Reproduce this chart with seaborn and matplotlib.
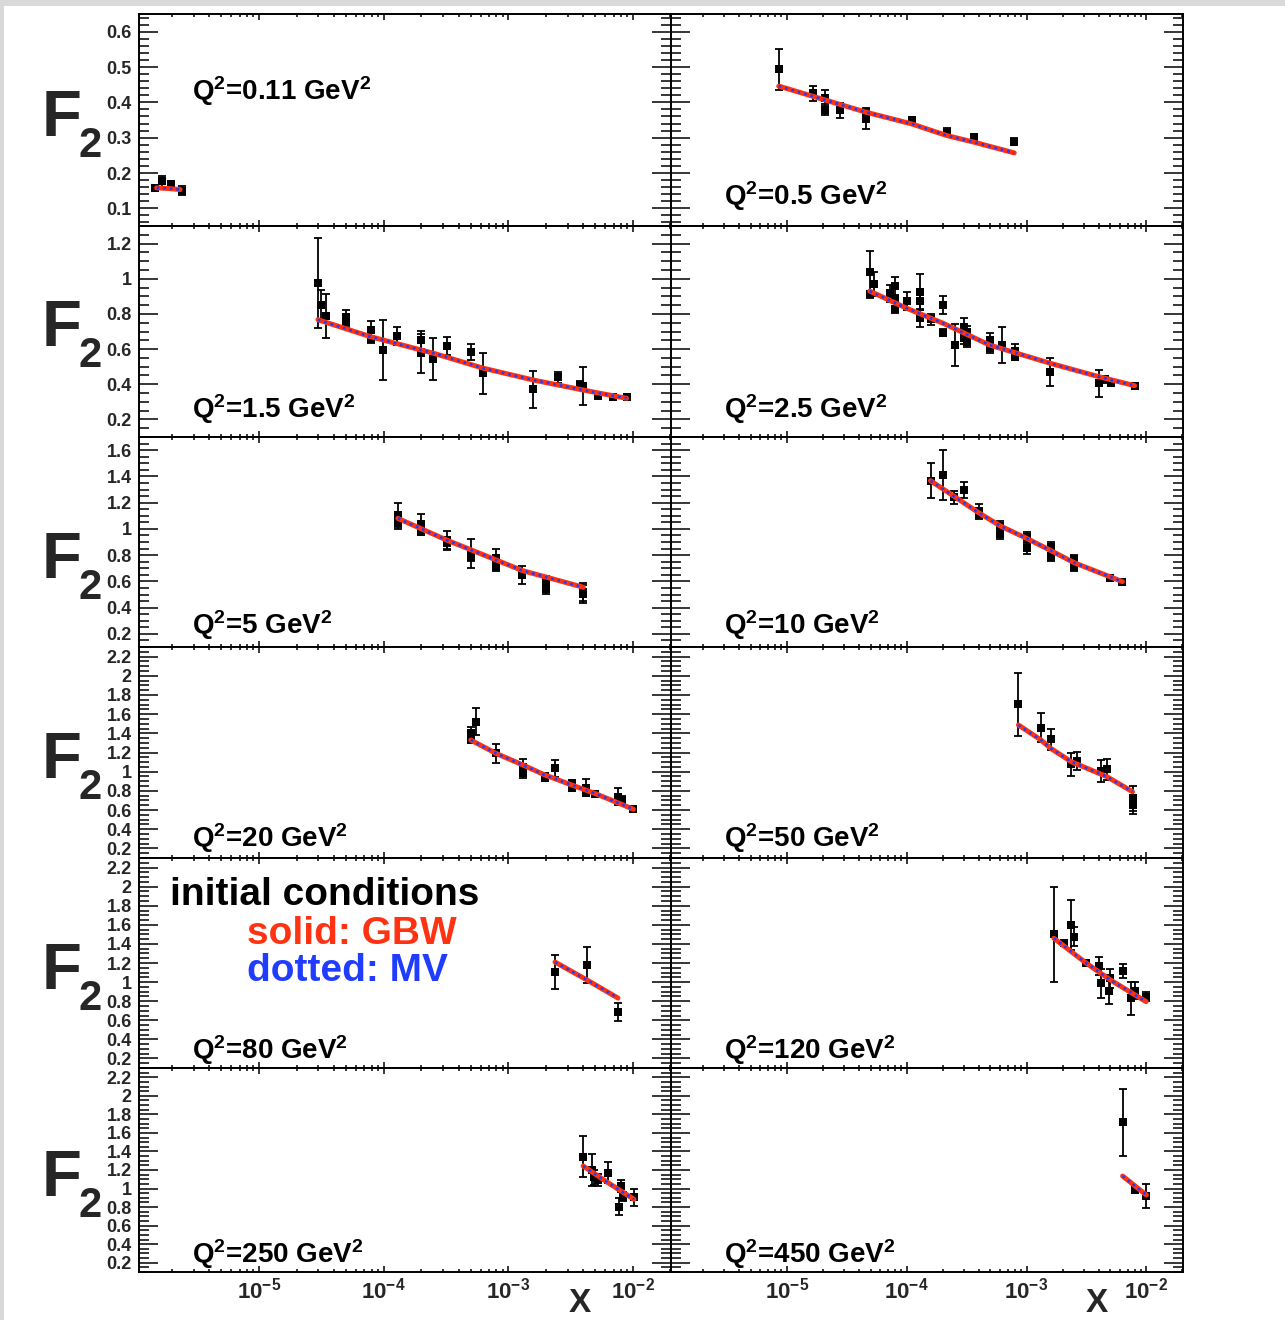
import numpy as np
import pandas as pd
import matplotlib
matplotlib.use("Agg")
import matplotlib.pyplot as plt
import seaborn as sns
from matplotlib.ticker import MultipleLocator, LogLocator, NullFormatter, FuncFormatter
from matplotlib.patches import Rectangle

# ---------------- data ----------------
q2_labels = ["0.11", "0.5", "1.5", "2.5", "5", "10", "20", "50", "80", "120", "250", "450"]

x_011 = [1.47e-6, 1.68e-6, 1.96e-6, 2.40e-6]
f2_011 = [0.158, 0.176, 0.168, 0.150]
err_011 = [0.009, 0.015, 0.010, 0.012]
thx_011 = [1.51e-6, 1.90e-6, 2.33e-6]
thf_011 = [0.158, 0.156, 0.153]

x_05 = [8.56e-6, 1.66e-5, 2.10e-5, 2.10e-5, 2.75e-5, 4.58e-5, 4.58e-5, 1.10e-4, 2.16e-4, 3.67e-4, 7.89e-4]
f2_05 = [0.493, 0.425, 0.413, 0.379, 0.377, 0.368, 0.354, 0.349, 0.316, 0.301, 0.289]
err_05 = [0.057, 0.020, 0.022, 0.015, 0.020, 0.012, 0.030, 0.010, 0.010, 0.010, 0.010]
thx_05 = [8.56e-6, 4.58e-5, 1.10e-4, 2.16e-4, 3.67e-4, 7.89e-4]
thf_05 = [0.446, 0.372, 0.339, 0.306, 0.287, 0.257]

x_15 = [2.97e-5, 3.14e-5, 3.48e-5, 4.96e-5, 4.96e-5, 7.89e-5, 7.89e-5, 9.86e-5, 1.28e-4, 2.00e-4, 2.00e-4,
        2.50e-4, 3.21e-4, 5.06e-4, 6.32e-4, 1.59e-3, 2.49e-3, 3.77e-3, 3.99e-3, 5.20e-3, 6.93e-3, 8.88e-3]
f2_15 = [0.974, 0.851, 0.790, 0.784, 0.756, 0.708, 0.656, 0.595, 0.674, 0.652, 0.576,
         0.542, 0.617, 0.585, 0.462, 0.371, 0.439, 0.397, 0.390, 0.333, 0.329, 0.329]
err_15 = [0.255, 0.085, 0.125, 0.04, 0.03, 0.05, 0.02, 0.17, 0.05, 0.05, 0.11,
          0.12, 0.05, 0.045, 0.115, 0.105, 0.03, 0.02, 0.11, 0.015, 0.015, 0.015]
thx_15 = [2.97e-5, 7.89e-5, 2.52e-4, 6.32e-4, 1.59e-3, 3.99e-3, 8.88e-3]
thf_15 = [0.767, 0.670, 0.576, 0.491, 0.424, 0.367, 0.320]

x_25 = [4.91e-5, 4.91e-5, 5.38e-5, 7.21e-5, 7.97e-5, 7.97e-5, 7.97e-5, 1.00e-4, 1.30e-4, 1.30e-4, 1.30e-4,
        1.61e-4, 2.01e-4, 2.01e-4, 2.51e-4, 3.02e-4, 3.02e-4, 3.19e-4, 3.19e-4, 4.92e-4, 4.92e-4, 6.29e-4,
        8.03e-4, 8.03e-4, 1.58e-3, 4.01e-3, 4.50e-3, 5.05e-3, 7.98e-3]
f2_25 = [1.040, 0.913, 0.970, 0.917, 0.959, 0.883, 0.826, 0.875, 0.926, 0.875, 0.775,
         0.769, 0.851, 0.693, 0.623, 0.727, 0.661, 0.699, 0.642, 0.652, 0.608, 0.623,
         0.589, 0.557, 0.471, 0.405, 0.428, 0.405, 0.392]
err_25 = [0.12, 0.02, 0.067, 0.05, 0.05, 0.02, 0.02, 0.05, 0.10, 0.05, 0.05,
          0.03, 0.05, 0.02, 0.12, 0.05, 0.03, 0.03, 0.03, 0.04, 0.03, 0.10,
          0.04, 0.02, 0.08, 0.075, 0.02, 0.015, 0.01]
thx_25 = [4.91e-5, 1.00e-4, 2.01e-4, 4.92e-4, 1.58e-3, 4.01e-3, 7.98e-3]
thf_25 = [0.930, 0.832, 0.747, 0.623, 0.519, 0.443, 0.392]

x_5 = [1.30e-4, 1.30e-4, 2.00e-4, 2.00e-4, 3.20e-4, 3.20e-4, 5.00e-4, 5.00e-4, 8.00e-4, 8.00e-4,
       1.30e-3, 2.00e-3, 2.00e-3, 4.00e-3, 4.00e-3]
f2_5 = [1.106, 1.047, 1.037, 0.986, 0.915, 0.890, 0.814, 0.783, 0.776, 0.712, 0.649, 0.610, 0.542, 0.521, 0.504]
err_5 = [0.09, 0.05, 0.08, 0.03, 0.07, 0.05, 0.11, 0.03, 0.07, 0.03, 0.07, 0.03, 0.04, 0.07, 0.07]
thx_5 = [1.30e-4, 3.20e-4, 8.00e-4, 1.30e-3, 4.00e-3]
thf_5 = [1.080, 0.915, 0.763, 0.682, 0.555]

x_10 = [1.58e-4, 2.00e-4, 2.47e-4, 2.99e-4, 3.99e-4, 3.99e-4, 6.05e-4, 6.05e-4, 1.00e-3, 1.00e-3,
        1.60e-3, 1.60e-3, 2.50e-3, 2.50e-3, 5.00e-3, 6.30e-3]
f2_10 = [1.367, 1.410, 1.241, 1.296, 1.136, 1.106, 1.022, 0.961, 0.940, 0.852, 0.860, 0.788, 0.768, 0.712, 0.628, 0.598]
err_10 = [0.135, 0.19, 0.05, 0.06, 0.05, 0.03, 0.04, 0.04, 0.04, 0.04, 0.04, 0.03, 0.03, 0.03, 0.01, 0.01]
thx_10 = [1.58e-4, 3.99e-4, 6.05e-4, 1.00e-3, 1.60e-3, 2.50e-3, 6.30e-3]
thf_10 = [1.367, 1.123, 1.022, 0.928, 0.834, 0.742, 0.598]

x_20 = [5.0e-4, 5.0e-4, 5.55e-4, 7.93e-4, 1.31e-3, 1.31e-3, 1.97e-3, 1.97e-3, 2.37e-3, 3.23e-3, 3.23e-3,
        4.20e-3, 4.20e-3, 4.95e-3, 7.61e-3, 8.13e-3, 1.01e-2]
f2_20 = [1.406, 1.330, 1.521, 1.192, 1.052, 0.989, 0.955, 0.931, 1.035, 0.879, 0.833,
         0.833, 0.774, 0.764, 0.739, 0.705, 0.608]
err_20 = [0.06, 0.03, 0.14, 0.10, 0.08, 0.05, 0.03, 0.03, 0.09, 0.03, 0.03, 0.09, 0.03, 0.02, 0.09, 0.04, 0.01]
thx_20 = [5.0e-4, 7.93e-4, 1.31e-3, 1.97e-3, 3.23e-3, 4.95e-3, 1.01e-2]
thf_20 = [1.330, 1.192, 1.070, 0.965, 0.861, 0.774, 0.608]

x_50 = [8.55e-4, 1.32e-3, 1.59e-3, 2.36e-3, 2.66e-3, 4.22e-3, 4.68e-3, 7.66e-3, 7.66e-3]
f2_50 = [1.702, 1.459, 1.338, 1.080, 1.111, 1.007, 1.025, 0.722, 0.652]
err_50 = [0.33, 0.15, 0.11, 0.12, 0.09, 0.11, 0.11, 0.13, 0.09]
thx_50 = [8.55e-4, 1.32e-3, 1.59e-3, 2.36e-3, 4.68e-3, 7.66e-3]
thf_50 = [1.487, 1.330, 1.243, 1.104, 0.948, 0.791]

x_80 = [2.37e-3, 4.28e-3, 7.58e-3]
f2_80 = [1.106, 1.179, 0.687]
err_80 = [0.18, 0.19, 0.09]
thx_80 = [2.37e-3, 4.28e-3, 7.58e-3]
thf_80 = [1.210, 1.022, 0.833]

x_120 = [1.69e-3, 2.07e-3, 2.37e-3, 2.51e-3, 3.16e-3, 4.00e-3, 4.21e-3, 5.01e-3, 4.91e-3, 6.34e-3, 7.50e-3, 8.10e-3, 9.94e-3]
f2_120 = [1.501, 1.413, 1.598, 1.475, 1.197, 1.169, 0.987, 1.040, 0.907, 1.116, 0.830, 0.910, 0.847]
err_120 = [0.50, 0.03, 0.26, 0.10, 0.02, 0.09, 0.15, 0.10, 0.14, 0.07, 0.17, 0.09, 0.05]
thx_120 = [1.69e-3, 3.16e-3, 5.01e-3, 9.94e-3]
thf_120 = [1.459, 1.197, 1.022, 0.795]

x_250 = [3.99e-3, 4.69e-3, 4.88e-3, 5.28e-3, 6.31e-3, 7.77e-3, 8.07e-3, 8.34e-3, 1.02e-2]
f2_250 = [1.343, 1.200, 1.121, 1.092, 1.171, 0.804, 1.027, 0.912, 0.905]
err_250 = [0.22, 0.17, 0.08, 0.06, 0.11, 0.09, 0.06, 0.05, 0.09]
thx_250 = [3.99e-3, 6.31e-3, 1.02e-2]
thf_250 = [1.243, 1.063, 0.884]

x_450 = [6.33e-3, 7.99e-3, 1.00e-2]
f2_450 = [1.714, 0.984, 0.919]
err_450 = [0.36, 0.03, 0.13]
thx_450 = [6.33e-3, 1.00e-2]
thf_450 = [1.135, 0.930]

data_x = [x_011, x_05, x_15, x_25, x_5, x_10, x_20, x_50, x_80, x_120, x_250, x_450]
data_f2 = [f2_011, f2_05, f2_15, f2_25, f2_5, f2_10, f2_20, f2_50, f2_80, f2_120, f2_250, f2_450]
data_err = [err_011, err_05, err_15, err_25, err_5, err_10, err_20, err_50, err_80, err_120, err_250, err_450]
theory_x = [thx_011, thx_05, thx_15, thx_25, thx_5, thx_10, thx_20, thx_50, thx_80, thx_120, thx_250, thx_450]
theory_f2 = [thf_011, thf_05, thf_15, thf_25, thf_5, thf_10, thf_20, thf_50, thf_80, thf_120, thf_250, thf_450]

# axis ranges / tick steps per row
row_ylims = [(0.05, 0.65), (0.1, 1.3), (0.1, 1.7), (0.1, 2.3), (0.1, 2.3), (0.1, 2.3)]
row_major = [0.1, 0.2, 0.2, 0.2, 0.2, 0.2]
row_minor = [0.02, 0.05, 0.05, 0.05, 0.05, 0.05]
x_range = (1.08e-6, 2.02e-2)

# ---------------- style ----------------
sns.set_theme(style="ticks")
plt.rcParams['font.family'] = ['Liberation Sans', 'DejaVu Sans']
plt.rcParams['font.weight'] = 'bold'
plt.rcParams['mathtext.fontset'] = 'custom'
plt.rcParams['mathtext.rm'] = 'Liberation Sans:bold'
plt.rcParams['mathtext.it'] = 'Liberation Sans:bold'
plt.rcParams['mathtext.bf'] = 'Liberation Sans:bold'
plt.rcParams['mathtext.sf'] = 'Liberation Sans:bold'
plt.rcParams['mathtext.default'] = 'rm'

RED = '#ff3311'
BLUE = '#1f3cff'

W, H = 1285, 1320
fig = plt.figure(figsize=(W / 100, H / 100), dpi=100)
fig.patch.set_facecolor('white')

COLS = [(138.5, 671.0), (671.0, 1183.0)]
ROWS = [14, 226, 437, 647, 858, 1068, 1272]
Q_BASE = [[100, 205], [418, 418], [634, 634], [847, 847], [1059, 1059], [1263, 1263]]
Q_X = [192, 724]
F_BASE = [136, 346, 578, 778, 989, 1196]


def fx(px):
    return px / W


def fy(py):
    return 1 - py / H


for i in range(12):
    r, c = divmod(i, 2)
    x0, x1 = COLS[c]
    y0, y1 = ROWS[r], ROWS[r + 1]
    ax = fig.add_axes([x0 / W, 1 - y1 / H, (x1 - x0) / W, (y1 - y0) / H])
    ax.set_facecolor('white')
    ax.set_xscale('log')
    ax.set_xlim(*x_range)
    ax.set_ylim(*row_ylims[r])

    df = pd.DataFrame({'x': data_x[i], 'F2': data_f2[i], 'err': data_err[i]})
    ax.errorbar(df['x'], df['F2'], yerr=df['err'], fmt='none', ecolor='black',
                elinewidth=1.3, capsize=3.0, capthick=1.3, zorder=3)
    sns.scatterplot(data=df, x='x', y='F2', marker='s', s=26, color='black',
                    edgecolor='black', linewidth=0, ax=ax, zorder=4, legend=False)
    th = pd.DataFrame({'x': theory_x[i], 'F2': theory_f2[i]})
    sns.lineplot(data=th, x='x', y='F2', ax=ax, color=RED, lw=3.6, estimator=None,
                 sort=False, legend=False, zorder=5)
    sns.lineplot(data=th, x='x', y='F2', ax=ax, color=BLUE, lw=1.9, ls=(0, (1.0, 1.5)),
                 estimator=None, sort=False, legend=False, zorder=6)
    ax.set_xlabel('')
    ax.set_ylabel('')

    for sp in ax.spines.values():
        sp.set_visible(True)
        sp.set_linewidth(1.4)
        sp.set_color('black')

    ax.xaxis.set_major_locator(LogLocator(base=10, numticks=15))
    ax.xaxis.set_minor_locator(LogLocator(base=10, subs=np.arange(2, 10), numticks=15))
    ax.xaxis.set_minor_formatter(NullFormatter())
    ax.yaxis.set_major_locator(MultipleLocator(row_major[r]))
    ax.yaxis.set_minor_locator(MultipleLocator(row_minor[r]))
    ax.yaxis.set_major_formatter(FuncFormatter(lambda v, pos: f"{round(v, 2):g}"))
    ax.xaxis.set_major_formatter(FuncFormatter(lambda v, pos: r"$10^{%d}$" % int(round(np.log10(v)))))

    ax.tick_params(axis='both', which='both', direction='in', top=True, right=True,
                   bottom=True, left=True, width=1.1, color='black')
    ax.tick_params(axis='y', which='major', length=13.5, labelsize=13, pad=5)
    ax.tick_params(axis='y', which='minor', length=7)
    ax.tick_params(axis='x', which='major', length=4, labelsize=16, pad=4)
    ax.tick_params(axis='x', which='minor', length=2.2)
    ax.tick_params(labelleft=(c == 0), labelbottom=(r == 5), labelright=False, labeltop=False)
    for lab in ax.get_yticklabels() + ax.get_xticklabels():
        lab.set_fontweight('bold')

    fig.text(fx(Q_X[c]), fy(Q_BASE[r][c]), r"Q$^{2}$=" + q2_labels[i] + r" GeV$^{2}$",
             fontsize=20, fontweight='bold', ha='left', va='baseline', color='black')

# F_2 axis titles
for r in range(6):
    fig.text(fx(42), fy(F_BASE[r]), "F", fontsize=47, fontweight='bold', ha='left', va='baseline')
    fig.text(fx(79), fy(F_BASE[r] + 21), "2", fontsize=30, fontweight='bold', ha='left', va='baseline')

# x axis titles
for cx in (580, 1097):
    fig.text(fx(cx), fy(1319), "X", fontsize=24, fontweight='bold', ha='center', va='bottom')

# legend text
fig.text(fx(170), fy(905), "initial conditions", fontsize=28, fontweight='bold', color='black',
         ha='left', va='baseline')
fig.text(fx(247), fy(944), "solid: GBW", fontsize=28, fontweight='bold', color=RED,
         ha='left', va='baseline')
fig.text(fx(247), fy(981), "dotted: MV", fontsize=28, fontweight='bold', color=BLUE,
         ha='left', va='baseline')

# light grey canvas border strips
fig.patches.append(Rectangle((0, 1 - 6 / H), 1, 6 / H, transform=fig.transFigure,
                             facecolor='#d9d9d9', edgecolor='none', zorder=0))
fig.patches.append(Rectangle((0, 0), 4 / W, 1, transform=fig.transFigure,
                             facecolor='#d9d9d9', edgecolor='none', zorder=0))

fig.savefig("out.png", dpi=100, facecolor='white')
